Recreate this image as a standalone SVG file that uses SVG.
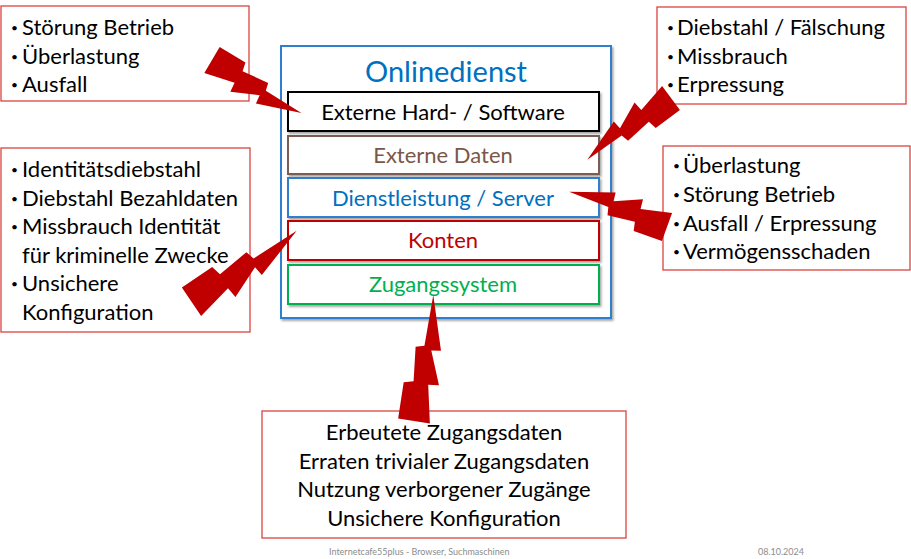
<svg xmlns="http://www.w3.org/2000/svg" xmlns:xlink="http://www.w3.org/1999/xlink" width="911" height="559" viewBox="0 0 911 559">
<style>
.t{font-family:Lato,"Liberation Sans",sans-serif;font-size:22px;fill:#000}
.b{font-family:Lato,"Liberation Sans",sans-serif;font-size:12px;fill:#000}
.call{fill:#fff;stroke:#d9443f;stroke-width:1.3}
.inner{fill:#fff;stroke-width:2;filter:url(#sh)}
.c{text-anchor:middle}
.foot{font-family:Lato,"Liberation Sans",sans-serif;font-size:9px;fill:#8c8c8c}
.bolt{fill:#c00000}
</style>
<defs>
<filter id="sh" x="-10%" y="-10%" width="120%" height="130%">
<feDropShadow dx="1.5" dy="2" stdDeviation="1.2" flood-color="#000" flood-opacity="0.35"/>
</filter>
<path id="bolt" d="M0,-15 L30,-15 L32,-6 L60,-9 L62,-1 L104,0 L60,15 L59,6 L32,18 L31,8 L0,15 Z"/>
</defs>
<rect width="911" height="559" fill="#fff"/>

<g id="online">
<rect x="281" y="46" width="330" height="272" fill="#fff" stroke="#2e7fd0" stroke-width="2" filter="url(#sh)"/>
<text class="t c" x="446" y="82" style="font-size:29px;fill:#0070c0">Onlinedienst</text>
</g>
<g id="hw">
<rect class="inner" x="288" y="92" width="311" height="39" stroke="#000"/>
<text class="t c" x="443" y="120">Externe Hard- / Software</text>
</g>
<g id="daten">
<rect class="inner" x="288" y="136" width="311" height="38" stroke="#7b5d52"/>
<text class="t c" x="443" y="163" style="fill:#7b5747">Externe Daten</text>
</g>
<g id="server">
<rect class="inner" x="288" y="178" width="311" height="39" stroke="#2e7fd0"/>
<text class="t c" x="443" y="206" style="fill:#0070c0">Dienstleistung / Server</text>
</g>
<g id="konten">
<rect class="inner" x="288" y="221" width="311" height="39" stroke="#c00000"/>
<text class="t c" x="443" y="248" style="fill:#c00000">Konten</text>
</g>
<g id="zugang">
<rect class="inner" x="288" y="265" width="311" height="39" stroke="#00b050"/>
<text class="t c" x="443" y="292" style="fill:#00b050">Zugangssystem</text>
</g>

<g id="box-betrieb">
<rect class="call" x="1" y="6" width="248" height="95"/>
<text class="b" x="11" y="32">•</text><text class="t" x="22" y="35">Störung Betrieb</text>
<text class="b" x="11" y="60.5">•</text><text class="t" x="22" y="63.5">Überlastung</text>
<text class="b" x="11" y="89">•</text><text class="t" x="22" y="92">Ausfall</text>
</g>
<g id="box-diebstahl">
<rect class="call" x="657" y="7" width="249" height="97"/>
<text class="b" x="667" y="32">•</text><text class="t" x="677" y="35">Diebstahl / Fälschung</text>
<text class="b" x="667" y="60.5">•</text><text class="t" x="677" y="63.5">Missbrauch</text>
<text class="b" x="667" y="89">•</text><text class="t" x="677" y="92">Erpressung</text>
</g>
<g id="box-server">
<rect class="call" x="663" y="146" width="247" height="124"/>
<text class="b" x="673" y="170">•</text><text class="t" x="683" y="173">Überlastung</text>
<text class="b" x="673" y="199">•</text><text class="t" x="683" y="202">Störung Betrieb</text>
<text class="b" x="673" y="228">•</text><text class="t" x="683" y="231">Ausfall / Erpressung</text>
<text class="b" x="673" y="256">•</text><text class="t" x="683" y="259">Vermögensschaden</text>
</g>
<g id="box-identitaet">
<rect class="call" x="1" y="148" width="249" height="184"/>
<text class="b" x="11" y="174">•</text><text class="t" x="22" y="177">Identitätsdiebstahl</text>
<text class="b" x="11" y="203">•</text><text class="t" x="22" y="206">Diebstahl Bezahldaten</text>
<text class="b" x="11" y="231">•</text><text class="t" x="22" y="234">Missbrauch Identität</text>
<text class="t" x="22" y="263">für kriminelle Zwecke</text>
<text class="b" x="11" y="288">•</text><text class="t" x="22" y="291">Unsichere</text>
<text class="t" x="22" y="320">Konfiguration</text>
</g>
<g id="box-zugang">
<rect class="call" x="262" y="411" width="364" height="127"/>
<text class="t c" x="444" y="440">Erbeutete Zugangsdaten</text>
<text class="t c" x="444" y="469">Erraten trivialer Zugangsdaten</text>
<text class="t c" x="444" y="497">Nutzung verborgener Zugänge</text>
<text class="t c" x="444" y="526">Unsichere Konfiguration</text>
</g>

<g id="connectors">
<use xlink:href="#bolt" class="bolt" transform="translate(212,60) rotate(30.7)"/>
<use xlink:href="#bolt" class="bolt" transform="translate(671,98) rotate(143.6)"/>
<use xlink:href="#bolt" class="bolt" transform="translate(667,227) rotate(199.8)"/>
<use xlink:href="#bolt" class="bolt" transform="translate(191.5,301.7) rotate(-34) scale(1.22,1.15)"/>
<use xlink:href="#bolt" class="bolt" transform="translate(414,421) rotate(-81.3) scale(1.226,1.07)"/>
</g>

<g id="footer">
<text class="foot" x="329" y="555">Internetcafe55plus - Browser, Suchmaschinen</text>
<text class="foot" x="804" y="555" text-anchor="end">08.10.2024</text>
</g>
</svg>
